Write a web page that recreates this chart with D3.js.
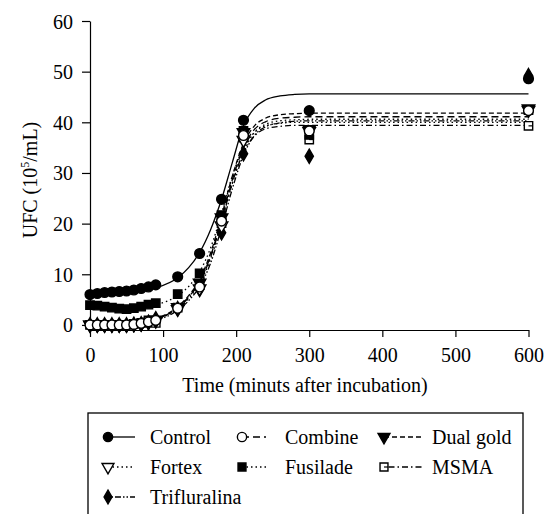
<!DOCTYPE html>
<html><head><meta charset="utf-8">
<script src="https://cdn.jsdelivr.net/npm/d3@7"></script>
</head>
<body style="margin:0">
<svg id="c" width="559" height="514"></svg>
<script>
// ---- data ----
const seriesNames = ["Control","Combine","Dual gold","Fortex","Fusilade","MSMA","Trifluralina"];
const times = [0,10,20,30,40,50,60,70,80,90,120,150,180,210,300,600];
const control      = [6.0,6.2,6.4,6.5,6.6,6.7,6.9,7.2,7.5,7.9,9.5,14.1,24.8,40.4,42.3,48.6];
const combine      = [0,0,0,0,0,0,0.1,0.3,0.6,0.9,3.3,7.5,20.5,37.4,38.3,42.3];
const dualGold     = [0,0,0,0,0,0,0.1,0.3,0.6,1.0,3.5,8.3,21.2,38.0,38.6,42.7];
const fortex       = [0,0,0,0,0,0,0.1,0.2,0.5,0.8,3.1,7.2,19.6,36.5,38.2,42.4];
const fusilade     = [3.9,3.8,3.6,3.4,3.2,3.1,3.3,3.6,4.0,4.3,6.1,10.2,21.7,38.3,37.5,42.4];
const msma         = [0,0,0,0,0,0,0.2,0.4,0.9,0.4,3.4,7.9,20.1,37.0,36.6,39.3];
const trifluralina = [0,0,0,0,0,0,0.1,0.2,0.5,1.2,3.2,7.0,18.2,33.8,33.3,49.2];

// fitted sigmoid curves
const fitTimes = [0,30,60,90,120,135,150,165,180,195,210,225,240,260,280,300,350,600];
const fitControl      = [6.0,6.2,6.5,7.3,9.3,11.3,14.3,18.8,24.8,32.2,39.3,42.8,44.4,45.2,45.5,45.6,45.6,45.6];
const fitCombine      = [0,0.05,0.3,1.1,3.4,5.5,8.6,13.6,20.8,28.8,35.0,38.6,40.1,40.8,41.0,41.1,41.1,41.1];
const fitDualGold     = [0,0.05,0.3,1.2,3.6,5.8,9.0,14.2,21.5,29.5,35.8,39.3,40.8,41.5,41.7,41.8,41.8,41.8];
const fitFortex       = [0,0.05,0.25,1.0,3.2,5.2,8.2,13.0,20.2,28.0,34.3,38.0,39.6,40.3,40.5,40.6,40.6,40.6];
const fitFusilade     = [3.6,3.5,3.5,4.0,5.8,7.6,10.5,15.2,22.0,29.5,35.0,38.0,39.3,39.8,40.0,40.0,40.0,40.0];
const fitMsma         = [0,0.05,0.3,1.1,3.4,5.5,8.5,13.4,20.5,28.2,34.0,37.3,38.7,39.2,39.4,39.4,39.4,39.4];
const fitTrifluralina = [0,0.05,0.25,0.9,2.9,4.8,7.6,12.2,19.2,27.0,33.5,37.4,39.1,39.9,40.2,40.3,40.3,40.3];

const xTicks = [0,100,200,300,400,500,600];
const yTicks = [0,10,20,30,40,50,60];
const xTitle = "Time (minuts after incubation)";

// ---- styles ----
const FONT = '"Liberation Serif"';
const FS = 20;
const pointValues = [control,combine,dualGold,fortex,fusilade,msma,trifluralina];
const fitValues = [fitControl,fitCombine,fitDualGold,fitFortex,fitFusilade,fitMsma,fitTrifluralina];
const markerKind = ["circleF","circleO","triDownF","triDownO","squareF","squareO","diamondF"];
const dashes = [null,"7,4","5,3","1.5,3","1.5,3","1.5,3,6,3","1.5,2,1.5,2,6,2"];

const svg = d3.select("#c");
const x = d3.scaleLinear().domain([0,600]).range([90,528.5]);
const y = d3.scaleLinear().domain([-1,60]).range([330,21]);

function serif(sel){ return sel.style("font-family",FONT).attr("font-size",FS).attr("fill","#000"); }

// axes
const gx = svg.append("g").attr("transform","translate(0,330)")
  .call(d3.axisBottom(x).tickValues(xTicks).tickSize(7).tickSizeOuter(0).tickFormat(d3.format("d")));
const gy = svg.append("g").attr("transform","translate(90,0)")
  .call(d3.axisLeft(y).tickValues(yTicks).tickSize(8).tickSizeOuter(0).tickFormat(d3.format("d")));
[gx,gy].forEach(g=>{
  g.attr("font-family",null).attr("font-size",null);
  g.selectAll("path,line").attr("stroke","#000").attr("stroke-width",1.2);
  serif(g.selectAll("text"));
});
gx.selectAll("text").attr("dy","0").attr("y",32);
gy.selectAll("text").attr("x",-17).attr("dy","0.35em");

serif(svg.append("text").attr("x",305).attr("y",392).attr("text-anchor","middle")).text(xTitle);
const yt = serif(svg.append("text").attr("transform","translate(37,180) rotate(-90)")
  .attr("text-anchor","middle"));
yt.append("tspan").text("UFC (10");
yt.append("tspan").attr("font-size",12).attr("dy",-8).text("5");
yt.append("tspan").attr("dy",8).text("/mL)");

// fitted curves
const line = d3.line().x((d,i)=>x(fitTimes[i])).y(d=>y(d)).curve(d3.curveMonotoneX);
fitValues.forEach((vals,k)=>{
  svg.append("path").attr("d",line(vals)).attr("fill","none").attr("stroke","#000")
    .attr("stroke-width",1.3).attr("stroke-dasharray",dashes[k]);
});

// markers
function drawMarker(g,kind,cx,cy,scale){
  const s = scale||1;
  const filled = kind.endsWith("F");
  const fill = filled ? "#000" : "#fff";
  const base = kind.slice(0,-1);
  let sym;
  if(base==="circle") sym = d3.symbol().type(d3.symbolCircle).size(75*s);
  else if(base==="square") sym = d3.symbol().type(d3.symbolSquare).size(70*s);
  else if(base==="diamond") sym = d3.symbol().type(d3.symbolDiamond).size(60*s);
  else sym = d3.symbol().type(d3.symbolTriangle).size(68*s);
  const p = g.append("path").attr("d",sym()).attr("fill",fill).attr("stroke","#000")
    .attr("stroke-width",1.4);
  if(base==="triDown") p.attr("transform",`translate(${cx},${cy}) rotate(180)`);
  else p.attr("transform",`translate(${cx},${cy})`);
  if(kind==="squareO"){
    g.append("line").attr("x1",cx).attr("x2",cx+4).attr("y1",cy).attr("y2",cy)
     .attr("stroke","#000").attr("stroke-width",1.2);
  }
}
const order = [6,5,4,3,2,1,0];
order.forEach(k=>{
  const g = svg.append("g");
  pointValues[k].forEach((v,i)=>drawMarker(g,markerKind[k],x(times[i]),y(v)));
});

// legend
svg.append("rect").attr("x",88).attr("y",413).attr("width",435).attr("height",110)
  .attr("fill","none").attr("stroke","#000").attr("stroke-width",1.3);
const legMarkX = [108,242,384];
const legLineEnd = [135,266,423];
const legTextX = [150,285,432];
const legRows = [437,467,497];
seriesNames.forEach((name,k)=>{
  const col = k%3, row = Math.floor(k/3);
  const lx = legMarkX[col], ly = legRows[row];
  const g = svg.append("g");
  g.append("line").attr("x1",lx).attr("x2",legLineEnd[col]).attr("y1",ly).attr("y2",ly)
   .attr("stroke","#000").attr("stroke-width",1.3).attr("stroke-dasharray",dashes[k]);
  drawMarker(g,markerKind[k],lx,ly,0.9);
  serif(g.append("text").attr("x",legTextX[col]).attr("y",ly).attr("dy","0.35em")).text(name);
});
</script></body></html>
